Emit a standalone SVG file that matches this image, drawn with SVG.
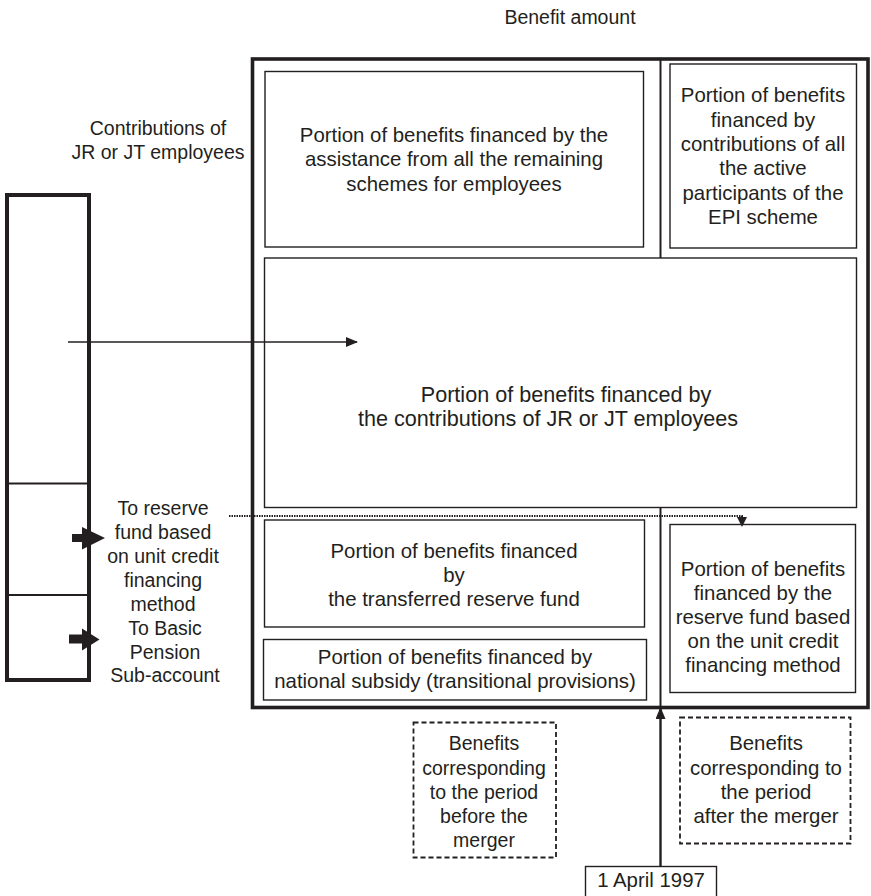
<svg xmlns="http://www.w3.org/2000/svg" width="871" height="896" viewBox="0 0 871 896">
<defs>
<style>
text{font-family:"Liberation Sans",Arial,sans-serif;font-size:20.4px;fill:#231f20;text-anchor:middle}
.lab{font-size:19.5px}
.mid{font-size:21.6px}
.box{fill:none;stroke:#231f20;stroke-width:1.4}
.thick{fill:none;stroke:#231f20;stroke-width:3.6}
.dash{fill:none;stroke:#231f20;stroke-width:1.8;stroke-dasharray:5 3}
.line{fill:none;stroke:#231f20;stroke-width:2}
.dot{fill:none;stroke:#231f20;stroke-width:2;stroke-dasharray:1.5 1}
</style>
<marker id="ah" markerWidth="12" markerHeight="10" refX="11" refY="5" orient="auto" markerUnits="userSpaceOnUse">
<path d="M0,0 L12,5 L0,10 Z" fill="#231f20"/>
</marker>
</defs>
<rect width="871" height="896" fill="#fff"/>
<text class="lab" x="570" y="24">Benefit amount</text>
<g id="contrib-label">
<text class="lab" x="158" y="135">Contributions of</text>
<text class="lab" x="158" y="159">JR or JT employees</text>
</g>
<g id="left-column">
<rect class="thick" x="7" y="195" width="82" height="485" style="stroke-width:4"/>
<line class="line" x1="7" y1="483.5" x2="89" y2="483.5"/>
<line class="line" x1="7" y1="595" x2="89" y2="595"/>
</g>
<g id="outer-box">
<rect class="thick" x="252.5" y="59" width="615.5" height="648.5"/>
</g>
<g id="top-left">
<rect class="box" x="265" y="71.5" width="378.5" height="175.5"/>
<text x="454" y="141.5">Portion of benefits financed by the</text>
<text x="454" y="166">assistance from all the remaining</text>
<text x="454" y="190.5">schemes for employees</text>
</g>
<g id="top-right">
<rect class="box" x="670" y="64" width="186.5" height="184"/>
<text x="763" y="102">Portion of benefits</text>
<text x="763" y="126.5">financed by</text>
<text x="763" y="151">contributions of all</text>
<text x="763" y="175">the active</text>
<text x="763" y="199.5">participants of the</text>
<text x="763" y="224">EPI scheme</text>
</g>
<g id="middle">
<rect class="box" x="264.5" y="258" width="592" height="249.5"/>
<text class="mid" x="566" y="402">Portion of benefits financed by</text>
<text class="mid" x="548" y="426">the contributions of JR or JT employees</text>
</g>
<g id="transferred">
<rect class="box" x="264.5" y="520" width="380" height="107"/>
<text x="454" y="558">Portion of benefits financed</text>
<text x="454" y="582">by</text>
<text x="454" y="606">the transferred reserve fund</text>
</g>
<g id="subsidy">
<rect class="box" x="263.5" y="639.5" width="383" height="60.5"/>
<text x="455" y="664">Portion of benefits financed by</text>
<text x="455" y="688">national subsidy (transitional provisions)</text>
</g>
<g id="unit-credit">
<rect class="box" x="670" y="524.5" width="185.5" height="168"/>
<text x="763" y="576">Portion of benefits</text>
<text x="763" y="600">financed by the</text>
<text x="763" y="624">reserve fund based</text>
<text x="763" y="648">on the unit credit</text>
<text x="763" y="672">financing method</text>
</g>
<g id="reserve-label">
<text class="lab" x="163" y="515">To reserve</text>
<text class="lab" x="163" y="539">fund based</text>
<text class="lab" x="163" y="563">on unit credit</text>
<text class="lab" x="163" y="587">financing</text>
<text class="lab" x="163" y="611">method</text>
</g>
<g id="basic-label">
<text class="lab" x="165" y="635">To Basic</text>
<text class="lab" x="165" y="658.5">Pension</text>
<text class="lab" x="165" y="682">Sub-account</text>
</g>
<g id="before">
<rect class="dash" x="413.5" y="722.5" width="142.5" height="135"/>
<text class="lab" x="484" y="750">Benefits</text>
<text class="lab" x="484" y="774.5">corresponding</text>
<text class="lab" x="484" y="799">to the period</text>
<text class="lab" x="484" y="823">before the</text>
<text class="lab" x="484" y="847">merger</text>
</g>
<g id="after">
<rect class="dash" x="680" y="717.5" width="170.5" height="126"/>
<text x="766" y="750">Benefits</text>
<text x="766" y="775">corresponding to</text>
<text x="766" y="799">the period</text>
<text x="766" y="823">after the merger</text>
</g>
<g id="date">
<rect class="box" x="585.5" y="866.5" width="131" height="32"/>
<text x="651" y="886.5">1 April 1997</text>
</g>
<g id="connectors">
<line class="line" x1="660.5" y1="59" x2="660.5" y2="258"/>
<line class="line" x1="660.5" y1="507.5" x2="660.5" y2="707.5"/>
<line class="line" x1="660.5" y1="866.5" x2="660.5" y2="708" marker-end="url(#ah)" style="stroke-width:2.4"/>
<line class="line" x1="68" y1="342" x2="357" y2="342" marker-end="url(#ah)" style="stroke-width:1.6"/>
<polyline class="dot" points="229,516 742,516 742,518"/>
<path d="M737,517 L747,517 L742,527 Z" fill="#231f20"/>
<path d="M72,534 L82,534 L82,527 L105,538 L82,549.5 L82,542 L72,542 Z" fill="#231f20"/>
<path d="M69,634.5 L82,634.5 L82,628.5 L99.5,639.5 L82,650.5 L82,643.5 L69,643.5 Z" fill="#231f20"/>
</g>
</svg>
